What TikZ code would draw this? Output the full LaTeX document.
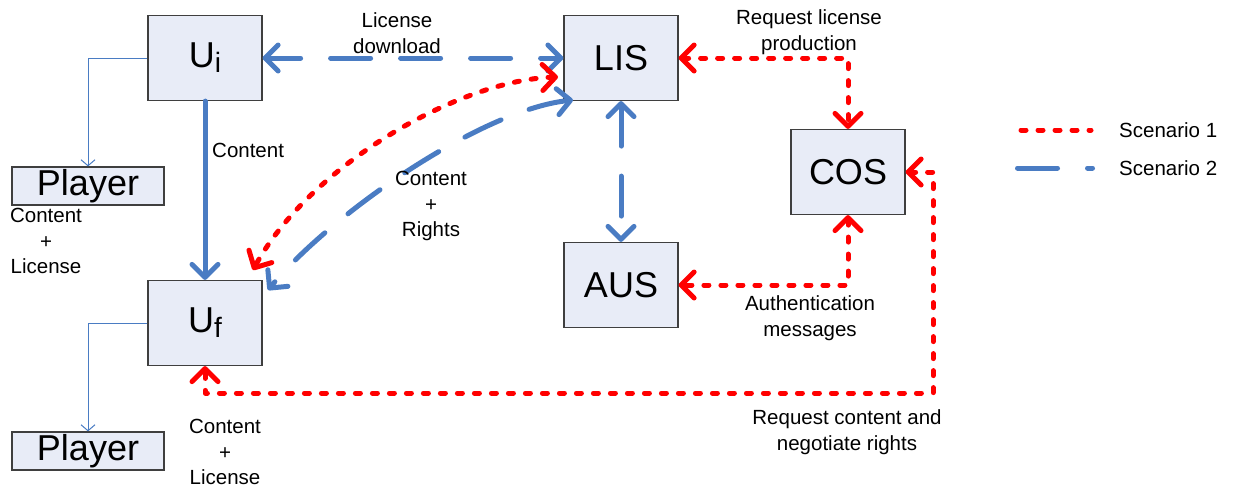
\documentclass[tikz,border=0pt]{standalone}
\usepackage{fontspec}
\setmainfont{Liberation Sans}
\usetikzlibrary{arrows.meta}
\definecolor{boxfill}{HTML}{E8ECF7}
\definecolor{boxline}{HTML}{3F3F3F}
\definecolor{sblue}{HTML}{4A7CC3}
\definecolor{sred}{HTML}{FF0000}
\newcommand{\subidx}[1]{\raisebox{-5pt}{\fontsize{28}{30}\selectfont #1}}

\begin{document}
\begin{tikzpicture}[x=1pt,y=-1pt,
  barb/.tip={Straight Barb[length=13pt,width=26pt,line cap=round,line join=round]},
  server/.style={draw=boxline,line width=1.2pt,fill=boxfill,minimum width=114pt,
    minimum height=85pt,inner sep=0pt,font=\fontsize{36}{40}\selectfont},
  player/.style={draw=boxline,line width=1.2pt,fill=boxfill,minimum width=152pt,
    minimum height=38pt,inner sep=0pt,font=\fontsize{36}{40}\selectfont},
  lbl/.style={font=\fontsize{20.5}{25.5}\selectfont,align=center,inner sep=0pt},
  legtext/.style={font=\fontsize{20.5}{24}\selectfont,anchor=west,inner sep=0pt},
  s1/.style={draw=sred,line width=5pt,line cap=round,line join=round,dash pattern=on 5pt off 12pt},
  s2/.style={draw=sblue,line width=5pt,line cap=round,line join=round,dash pattern=on 40pt off 30pt},
  solidblue/.style={draw=sblue,line width=5pt,line cap=round},
  feed/.style={draw=sblue,line width=1pt,-{Straight Barb[length=6pt,width=14pt]}},
]
\useasboundingbox (0,0) rectangle (1233,488);

% boxes
\node[server] (Ui)  at (205,58)  {U\subidx{i}};
\node[server] (Uf)  at (205,323) {U\subidx{f}};
\node[server] (LIS) at (621,58)  {LIS};
\node[server] (COS) at (848,172) {COS};
\node[server] (AUS) at (621,285) {AUS};
\node[player] (P1)  at (88,186)  {Player};
\node[player] (P2)  at (88,451)  {Player};

% local playback
\draw[feed] (Ui.west) -| (P1.north);
\draw[feed] (Uf.west) -| (P2.north);

% scenario 2 (blue)
\draw[s2,dash phase=7pt,{barb}-{barb}] (Ui.east) -- (LIS.west);
\draw[solidblue,-{barb}] (Ui.south) -- (Uf.north);
\draw[s2,{barb}-{barb}] (LIS.south) -- (AUS.north);
\coordinate (b1) at (573,100);
\coordinate (b2) at (268,290);
\draw[s2,{barb}-{barb}] (b1) .. controls (480,110) and (330,215) .. (b2);

% scenario 1 (red)
\coordinate (r1) at (558,77);
\coordinate (r2) at (253,270);
\draw[s1,{barb}-{barb}] (r1) .. controls (460,80) and (310,165) .. (r2);
\draw[s1,{barb}-{barb}] (LIS.east) -| (COS.north);
\draw[s1,{barb}-{barb}] (COS.south) |- (AUS.east);
\coordinate (k1) at (933,393);
\draw[s1,{barb}-{barb}] (COS.east) -| (k1) -| (Uf.south);

% labels
\node[lbl] (tdl) at (397,33) {License\\download};
\node[lbl] (trl) at (809,32) {Request license\\production};
\node[lbl,anchor=west] (tct) at (212,150) {Content};
\node[lbl] (tcr) at (431,206) {Content\\+\\Rights};
\node[lbl] (tau) at (810,318) {Authentication\\messages};
\node[lbl] (trc) at (847,432) {Request content and\\negotiate rights};
\node[lbl] (tl1) at (46,241) {Content\\+\\License};
\node[lbl] (tl2) at (225,452) {Content\\+\\License};

% legend
\coordinate (la1) at (1021,130);
\coordinate (la2) at (1091,130);
\coordinate (lb1) at (1017.5,168);
\coordinate (lb2) at (1092.5,168);
\draw[s1] (la1) -- (la2);
\draw[draw=sblue,line width=5pt,line cap=round,dash pattern=on 40pt off 30pt on 5pt off 30pt] (lb1) -- (lb2);
\node[legtext] (lg1) at (1119,130) {Scenario 1};
\node[legtext] (lg2) at (1119,168) {Scenario 2};
\end{tikzpicture}
\end{document}
